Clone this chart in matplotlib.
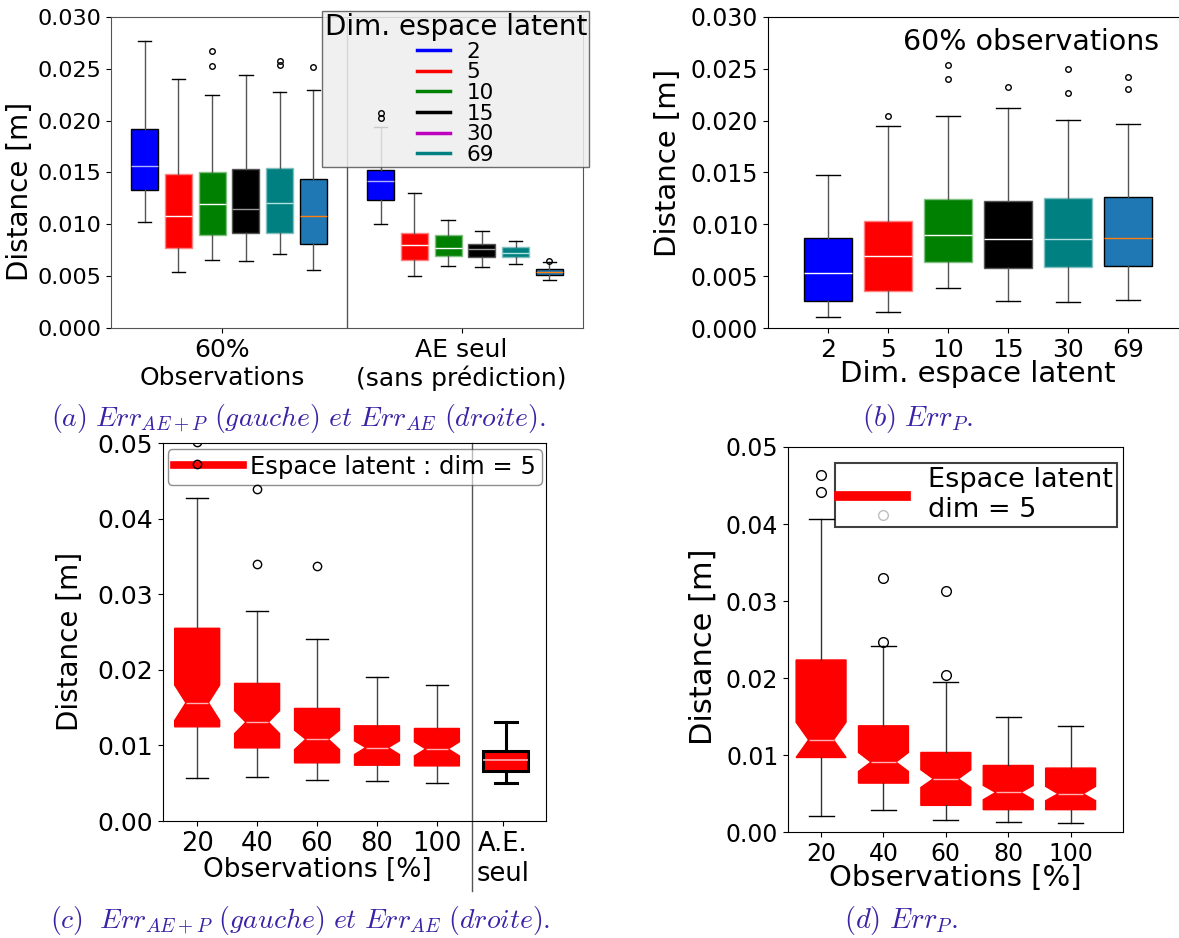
import matplotlib
matplotlib.use('Agg')
import matplotlib.pyplot as plt
from matplotlib.lines import Line2D

plt.rcParams['mathtext.fontset'] = 'cm'

# ---- data ----
dims = ['2', '5', '10', '15', '30', '69']
box_colors = ['blue', 'red', 'green', 'black', 'teal', '#1f77b4']
legend_colors = ['blue', 'red', 'green', 'black', 'm', 'teal']

# (a) left group: 60% observations, right group: AE seul
a_obs_q1 = [0.01328, 0.00768, 0.0090, 0.00916, 0.00913, 0.0081]
a_obs_med = [0.0156, 0.01077, 0.01196, 0.01145, 0.01209, 0.01077]
a_obs_q3 = [0.0192, 0.01486, 0.01505, 0.01534, 0.01547, 0.01437]
a_obs_lo = [0.0102, 0.00537, 0.00656, 0.00646, 0.0071, 0.00556]
a_obs_hi = [0.02772, 0.02405, 0.02248, 0.02444, 0.02273, 0.02296]
a_obs_fl = [[], [], [0.0267, 0.0253], [], [0.02579, 0.02534], [0.02518]]

a_ae_q1 = [0.01232, 0.00656, 0.00698, 0.00688, 0.00685, 0.00511]
a_ae_med = [0.01421, 0.0080, 0.00772, 0.00762, 0.00723, 0.0054]
a_ae_q3 = [0.01524, 0.0092, 0.00897, 0.0081, 0.00778, 0.00569]
a_ae_lo = [0.0100, 0.00498, 0.00595, 0.00588, 0.00617, 0.00466]
a_ae_hi = [0.01942, 0.01305, 0.01045, 0.00932, 0.00839, 0.00633]
a_ae_fl = [[0.02074, 0.02022], [], [], [], [], [0.0065]]

# (b) Err_P, 60% observations
b_q1 = [0.0026, 0.00354, 0.00637, 0.00582, 0.00588, 0.00595]
b_med = [0.00531, 0.00695, 0.00897, 0.00859, 0.00855, 0.00865]
b_q3 = [0.00868, 0.01032, 0.01241, 0.01225, 0.01251, 0.01264]
b_lo = [0.00109, 0.00158, 0.00386, 0.0026, 0.00254, 0.0027]
b_hi = [0.01473, 0.01949, 0.02045, 0.02125, 0.0201, 0.01968]
b_fl = [[], [0.02045], [0.0254, 0.02402], [0.02325], [0.02502, 0.02264], [0.02424, 0.02309]]

# (c) Err_AE+P vs observations, plus AE alone
obs = ['20', '40', '60', '80', '100']
c_q1 = [0.01246, 0.00967, 0.00769, 0.00738, 0.00729]
c_med = [0.01564, 0.01307, 0.01082, 0.00972, 0.00954]
c_q3 = [0.02549, 0.0182, 0.01489, 0.01259, 0.01224]
c_lo = [0.0057, 0.00587, 0.00539, 0.00526, 0.00508]
c_hi = [0.04276, 0.02783, 0.02412, 0.01904, 0.01798]
c_cilo = [0.0133, 0.01157, 0.00945, 0.00879, 0.00861]
c_cihi = [0.01798, 0.01458, 0.01201, 0.0106, 0.01047]
c_fl = [[0.0501, 0.04722], [0.04386, 0.03397], [0.03379], [], []]
c_ae = dict(q1=0.00663, med=0.00804, q3=0.00923, whislo=0.00504, whishi=0.01307, fliers=[])

# (d) Err_P vs observations
d_q1 = [0.00968, 0.00635, 0.00346, 0.0029, 0.0029]
d_med = [0.01197, 0.00908, 0.00691, 0.00514, 0.00497]
d_q3 = [0.02234, 0.01379, 0.01033, 0.00864, 0.0083]
d_lo = [0.00212, 0.00281, 0.0016, 0.0013, 0.00121]
d_hi = [0.04071, 0.0242, 0.01945, 0.015, 0.01383]
d_cilo = [0.00968, 0.00787, 0.00579, 0.00419, 0.00406]
d_cihi = [0.01426, 0.01033, 0.00808, 0.00605, 0.00592]
d_fl = [[0.04633, 0.04417], [0.04123, 0.03293, 0.02472], [0.03133, 0.0204], [], []]

W, H = 1179, 938
cap_color = '#3b22a6'


def px_axes(fig, left, top, right, bottom):
    return fig.add_axes([left / W, 1 - bottom / H, (right - left) / W, (bottom - top) / H])


def make_stats(q1, med, q3, lo, hi, fl, cilo=None, cihi=None):
    out = []
    for i in range(len(q1)):
        s = dict(q1=q1[i], med=med[i], q3=q3[i], whislo=lo[i], whishi=hi[i], fliers=fl[i])
        if cilo is not None:
            s['cilo'] = cilo[i]
            s['cihi'] = cihi[i]
        out.append(s)
    return out


def color_boxes(bp, colors, edges, medcols):
    for box, c, e in zip(bp['boxes'], colors, edges):
        box.set_facecolor(c)
        box.set_edgecolor(e)
    for m, mc in zip(bp['medians'], medcols):
        m.set_color(mc)


fig = plt.figure(figsize=(W / 100, H / 100), dpi=100)

# ---------------- (a) ----------------
ax = px_axes(fig, 111, 17, 583, 328)
st = make_stats(a_obs_q1, a_obs_med, a_obs_q3, a_obs_lo, a_obs_hi, a_obs_fl) + \
     make_stats(a_ae_q1, a_ae_med, a_ae_q3, a_ae_lo, a_ae_hi, a_ae_fl)
bp = ax.bxp(st, positions=[1, 2, 3, 4, 5, 6, 8, 9, 10, 11, 12, 13], widths=0.8,
            patch_artist=True,
            whiskerprops=dict(color='#555555'),
            flierprops=dict(marker='o', markersize=4, markerfacecolor='none', zorder=6))
edges = ['black', '#ff8080', '#80c080', '#555555', '#80c0c0', 'black']
meds = ['#b0b0ff', 'white', 'white', '#999999', '#b0e0e0', '#ff7f0e']
color_boxes(bp, box_colors * 2, edges * 2, meds * 2)
ax.axvline(7, color='#555555', lw=1)
ax.set_xlim(0, 14)
ax.set_ylim(0, 0.030)
ax.set_xticks([3.3, 10.4])
ax.set_xticklabels(['60%\nObservations', 'AE seul\n(sans prédiction)'], fontsize=18)
ax.set_yticks([0, 0.005, 0.010, 0.015, 0.020, 0.025, 0.030])
ax.set_yticklabels(['0.000', '0.005', '0.010', '0.015', '0.020', '0.025', '0.030'], fontsize=16)
ax.set_ylabel('Distance [m]', fontsize=20, labelpad=2, y=0.44)
for sp in ax.spines.values():
    sp.set_color('#555555')
handles = [Line2D([], [], color=c, lw=2.5) for c in legend_colors]
leg = ax.legend(handles, dims, title='Dim. espace latent', fontsize=15.5, title_fontsize=20,
                loc='upper right', bbox_to_anchor=(1.013, 1.02), borderaxespad=0,
                handlelength=1.5, labelspacing=0.03, borderpad=0.1, framealpha=0.85,
                facecolor='#eeeeee', edgecolor='#555555', fancybox=False)

# ---------------- (b) ----------------
ax = px_axes(fig, 768, 17, 1188, 328)
bp = ax.bxp(make_stats(b_q1, b_med, b_q3, b_lo, b_hi, b_fl), positions=[1, 2, 3, 4, 5, 6],
            widths=0.8, patch_artist=True,
            whiskerprops=dict(color='#555555'),
            flierprops=dict(marker='o', markersize=4, markerfacecolor='none'))
edges = ['black', '#ff8080', '#80c080', '#555555', '#80c0c0', 'black']
meds = ['white', 'white', 'white', 'white', '#b0e0e0', '#ff7f0e']
color_boxes(bp, box_colors, edges, meds)
ax.set_xlim(0, 7)
ax.set_ylim(0, 0.030)
ax.set_xticks([1, 2, 3, 4, 5, 6])
ax.set_xticklabels(dims, fontsize=18)
ax.set_yticks([0, 0.005, 0.010, 0.015, 0.020, 0.025, 0.030])
ax.set_yticklabels(['0.000', '0.005', '0.010', '0.015', '0.020', '0.025', '0.030'], fontsize=17)
ax.set_xlabel('Dim. espace latent', fontsize=21, labelpad=-1)
ax.set_ylabel('Distance [m]', fontsize=21, labelpad=6, y=0.53)
ax.text(0.626, 0.92, '60% observations', transform=ax.transAxes, ha='center', va='center',
        fontsize=20.5)

# ---------------- (c) ----------------
ax = px_axes(fig, 163, 443, 546, 821)
bp = ax.bxp(make_stats(c_q1, c_med, c_q3, c_lo, c_hi, c_fl, c_cilo, c_cihi),
            positions=[1, 2, 3, 4, 5], widths=0.75, patch_artist=True, shownotches=True,
            whiskerprops=dict(color='#444444'),
            flierprops=dict(marker='o', markersize=6, markerfacecolor='none', zorder=6))
color_boxes(bp, ['red'] * 5, ['red'] * 5, ['#ffb0b0'] * 5)
bp2 = ax.bxp([c_ae], positions=[6.15], widths=0.75, patch_artist=True,
             boxprops=dict(linewidth=2.2), whiskerprops=dict(linewidth=2.2),
             capprops=dict(linewidth=2.2), medianprops=dict(linewidth=1.2))
color_boxes(bp2, ['red'], ['black'], ['#ffb0b0'])
ax.axvline(5.58, ymin=-0.185, ymax=1, color='#555555', lw=1, clip_on=False)
ax.set_xlim(0.43, 6.82)
ax.set_ylim(0, 0.05)
ax.set_xticks([1, 2, 3, 4, 5, 6.1])
ax.set_xticklabels(obs + ['A.E.\nseul'], fontsize=18.5, va='top')
ax.set_yticks([0, 0.01, 0.02, 0.03, 0.04, 0.05])
ax.set_yticklabels(['0.00', '0.01', '0.02', '0.03', '0.04', '0.05'], fontsize=18)
ax.set_xlabel('Observations [%]', fontsize=19)
ax.xaxis.set_label_coords(0.402, -0.095)
ax.set_ylabel('Distance [m]', fontsize=20, labelpad=10, y=0.475)
ax.legend([Line2D([], [], color='red', lw=5.5)], ['Espace latent : dim = 5'], fontsize=17.5,
          loc='upper right', bbox_to_anchor=(0.99, 0.985), borderaxespad=0,
          handlelength=2.85, handletextpad=0.3, borderpad=0.25, framealpha=0.6,
          edgecolor='#444444')

# ---------------- (d) ----------------
ax = px_axes(fig, 788, 447, 1123, 832)
bp = ax.bxp(make_stats(d_q1, d_med, d_q3, d_lo, d_hi, d_fl, d_cilo, d_cihi),
            positions=[1, 2, 3, 4, 5], widths=0.8, patch_artist=True, shownotches=True,
            whiskerprops=dict(color='#333333'),
            flierprops=dict(marker='o', markersize=7, markerfacecolor='none'))
color_boxes(bp, ['red'] * 5, ['red'] * 5, ['#ffb0b0'] * 5)
ax.set_xlim(0.47, 5.84)
ax.set_ylim(0, 0.05)
ax.set_xticks([1, 2, 3, 4, 5])
ax.set_xticklabels(obs, fontsize=17)
ax.set_yticks([0, 0.01, 0.02, 0.03, 0.04, 0.05])
ax.set_yticklabels(['0.00', '0.01', '0.02', '0.03', '0.04', '0.05'], fontsize=17)
ax.set_xlabel('Observations [%]', fontsize=21, labelpad=-1)
ax.set_ylabel('Distance [m]', fontsize=22, labelpad=6, y=0.48)
ax.legend([Line2D([], [], color='red', lw=7)], ['Espace latent\ndim = 5'], fontsize=19.5,
          loc='upper right', bbox_to_anchor=(0.982, 0.958), borderaxespad=0,
          handlelength=2.5, borderpad=0.15, fancybox=False, framealpha=0.75,
          edgecolor='black').get_frame().set_linewidth(1.5)

# ---------------- captions ----------------
fig.text(298 / W, 1 - 418 / H, r'$(a)\ Err_{AE+P}\ (gauche)\ et\ Err_{AE}\ (droite).$',
         ha='center', va='center', fontsize=20, color=cap_color)
fig.text(918 / W, 1 - 418 / H, r'$(b)\ Err_{P}.$',
         ha='center', va='center', fontsize=20.5, color=cap_color)
fig.text(300 / W, 1 - 920 / H, r'$(c)\ \ Err_{AE+P}\ (gauche)\ et\ Err_{AE}\ (droite).$',
         ha='center', va='center', fontsize=20, color=cap_color)
fig.text(901 / W, 1 - 920 / H, r'$(d)\ Err_{P}.$',
         ha='center', va='center', fontsize=20.5, color=cap_color)

fig.savefig('out.png', dpi=100)
